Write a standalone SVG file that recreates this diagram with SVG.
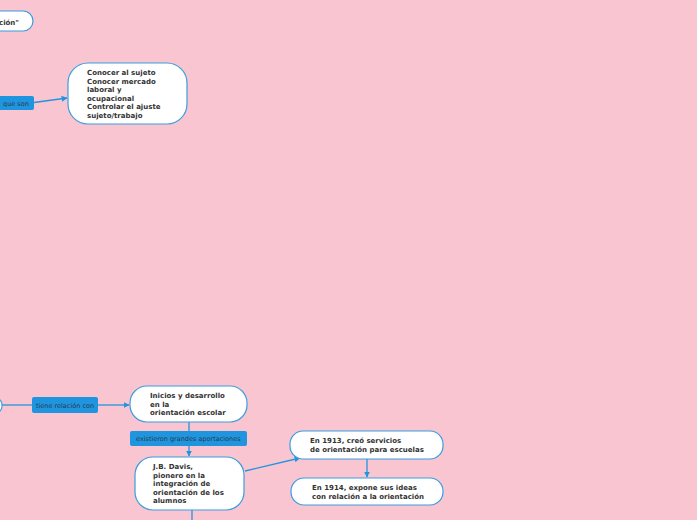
<svg xmlns="http://www.w3.org/2000/svg" width="697" height="520" viewBox="0 0 697 520">
<defs>
<style>
.node{fill:#ffffff;stroke:#3b9de0;stroke-width:1.2}
.lab{fill:#1f95e0}
.nt{font-family:"DejaVu Sans",Verdana,sans-serif;font-weight:bold;font-size:7px;fill:#333333}
.lt{font-family:"DejaVu Sans",Verdana,sans-serif;font-size:6.5px;fill:#2a3a4a}
.con{stroke:#1f95e0;stroke-width:1.3;fill:none}
</style>
<marker id="ah" viewBox="0 0 10 10" refX="9" refY="5" markerWidth="6" markerHeight="6" markerUnits="userSpaceOnUse" orient="auto">
<path d="M0,0 L10,5 L0,10 z" fill="#1f95e0"/>
</marker>
</defs>
<rect width="697" height="520" fill="#f9c5d1"/>
<g id="connectors">
<line class="con" x1="34" y1="102.5" x2="67" y2="98" marker-end="url(#ah)"/>
<line class="con" x1="2" y1="405" x2="32" y2="405"/>
<line class="con" x1="98" y1="405" x2="129" y2="405" marker-end="url(#ah)"/>
<line class="con" x1="189" y1="422" x2="189" y2="431"/>
<line class="con" x1="189" y1="446" x2="189" y2="456" marker-end="url(#ah)"/>
<line class="con" x1="245" y1="471" x2="300" y2="458" marker-end="url(#ah)"/>
<line class="con" x1="367" y1="459" x2="367" y2="477" marker-end="url(#ah)"/>
<line class="con" x1="192" y1="510" x2="192" y2="520"/>
</g>
<g id="node-top">
<rect class="node" x="-40" y="11" width="73" height="20" rx="10"/>
<text class="nt" x="-1" y="24.5">ción"</text>
</g>
<g id="label-queson">
<rect class="lab" x="-6" y="96" width="40" height="14" rx="2"/>
<text class="lt" x="3" y="105.5">que son</text>
</g>
<g id="node-conocer">
<rect class="node" x="68" y="63" width="119" height="61" rx="20"/>
<text class="nt" x="87" y="75">Conocer al sujeto</text>
<text class="nt" x="87" y="83.5">Conocer mercado</text>
<text class="nt" x="87" y="92">laboral y</text>
<text class="nt" x="87" y="100.5">ocupacional</text>
<text class="nt" x="87" y="109">Controlar el ajuste</text>
<text class="nt" x="87" y="117.5">sujeto/trabajo</text>
</g>
<g id="node-left">
<rect class="node" x="-40" y="397" width="42" height="17" rx="8"/>
</g>
<g id="label-tiene">
<rect class="lab" x="32" y="397" width="66" height="16" rx="2"/>
<text class="lt" x="36" y="407.5">tiene relación con</text>
</g>
<g id="node-inicios">
<rect class="node" x="130" y="386" width="117" height="36" rx="17"/>
<text class="nt" x="150" y="398">Inicios y desarrollo</text>
<text class="nt" x="150" y="406.5">en la</text>
<text class="nt" x="150" y="415">orientación escolar</text>
</g>
<g id="label-existieron">
<rect class="lab" x="130" y="431" width="117" height="15" rx="2"/>
<text class="lt" x="136" y="441">existieron grandes aportaciones</text>
</g>
<g id="node-davis">
<rect class="node" x="135" y="457" width="109" height="53" rx="18"/>
<text class="nt" x="153" y="469">J.B. Davis,</text>
<text class="nt" x="153" y="477.5">pionero en la</text>
<text class="nt" x="153" y="486">integración de</text>
<text class="nt" x="153" y="494.5">orientación de los</text>
<text class="nt" x="153" y="503">alumnos</text>
</g>
<g id="node-1913">
<rect class="node" x="290" y="431" width="153" height="28" rx="13"/>
<text class="nt" x="310" y="442.5">En 1913, creó servicios</text>
<text class="nt" x="310" y="451.5">de orientación para escuelas</text>
</g>
<g id="node-1914">
<rect class="node" x="291" y="478" width="152" height="27" rx="13"/>
<text class="nt" x="312" y="489.5">En 1914, expone sus ideas</text>
<text class="nt" x="312" y="498.5">con relación a la orientación</text>
</g>
</svg>
